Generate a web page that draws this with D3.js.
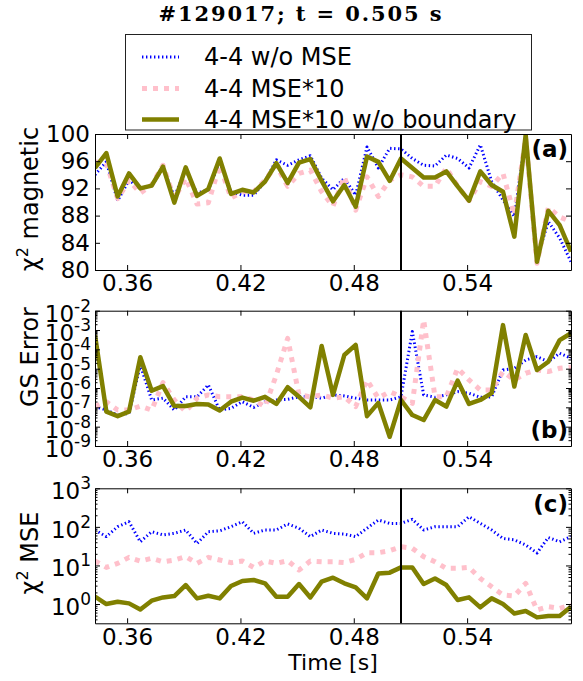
<!DOCTYPE html>
<html>
<head>
<meta charset="utf-8">
<script src="https://cdn.jsdelivr.net/npm/d3@7"></script>
<style>
  body { margin: 0; background: #fff; }
  svg { display: block; font-family: "DejaVu Sans", sans-serif; }
</style>
</head>
<body>
<svg id="chart" width="583" height="681"></svg>
<script>
// time samples [s]
const times = [0.343, 0.349, 0.355, 0.361, 0.367, 0.373, 0.379, 0.385, 0.391, 0.397,
  0.403, 0.409, 0.415, 0.421, 0.427, 0.433, 0.439, 0.445, 0.451, 0.457,
  0.463, 0.469, 0.475, 0.481, 0.487, 0.493, 0.499, 0.505, 0.511, 0.517,
  0.523, 0.529, 0.535, 0.541, 0.547, 0.553, 0.559, 0.565, 0.571, 0.577,
  0.583, 0.589, 0.595];

// (a) chi^2 magnetic
const chiMagNoMse = [94.0, 95.9, 90.2, 93.2, 92.0, 92.4, 95.0, 90.8, 94.7, 91.3,
  91.8, 95.9, 91.5, 91.0, 91.0, 93.0, 96.2, 95.4, 96.2, 96.8,
  93.5, 91.8, 93.5, 91.0, 98.1, 95.0, 97.9, 97.8, 96.4, 95.4,
  95.3, 96.9, 96.4, 95.0, 98.4, 93.0, 90.3, 87.9, 99.6, 81.7,
  87.1, 84.7, 81.2];
const chiMagMse10 = [95.9, 95.7, 90.5, 93.2, 91.3, 92.5, 95.4, 90.5, 93.5, 89.7,
  89.9, 95.4, 90.6, 91.5, 91.5, 93.2, 95.4, 92.3, 94.2, 94.7,
  91.5, 89.4, 93.7, 88.8, 93.7, 90.8, 93.2, 94.0, 93.7, 92.3,
  92.3, 95.0, 92.3, 90.2, 93.0, 92.3, 94.2, 88.1, 99.4, 81.0,
  89.2, 87.8, 87.1];
const chiMagNoBdry = [95.0, 97.2, 90.8, 94.2, 92.0, 92.4, 95.2, 89.9, 95.1, 90.9,
  91.9, 96.4, 91.2, 91.8, 91.4, 93.0, 95.7, 92.8, 95.8, 96.3,
  93.1, 90.1, 92.5, 89.3, 96.7, 95.9, 93.1, 96.4, 95.0, 93.6,
  93.6, 94.5, 92.3, 90.2, 94.5, 92.5, 91.5, 84.9, 99.9, 81.2,
  88.7, 86.6, 82.7];

// (b) GS error
const gsNoMse = [1.1e-7, 7.2e-8, 4.0e-8, 4.9e-8, 1.55e-5, 2.4e-7, 3.0e-7, 7.2e-8, 3.5e-7, 3.5e-7,
  1.45e-6, 7.2e-8, 8.9e-8, 1.95e-7, 1.0e-7, 1.95e-7, 2.4e-7, 2.6e-7, 3.5e-7, 3.5e-7,
  3.0e-7, 4.4e-7, 3.9e-7, 3.0e-7, 2.4e-7, 2.4e-7, 2.4e-7, 3.5e-7, 8.3e-4, 4.4e-7,
  3.3e-7, 4.4e-7, 6.5e-7, 5.4e-7, 3.3e-7, 3.5e-7, 8.5e-6, 1.05e-5, 2.8e-5, 4.2e-5,
  2.3e-5, 6.3e-5, 3.5e-5];
const gsMse10 = [1.1e-7, 1.95e-7, 7.2e-8, 7.2e-8, 1.17e-7, 7.2e-8, 1.9e-6, 2.4e-7, 6.0e-8, 3.0e-7,
  4.4e-7, 3.5e-7, 3.5e-7, 3.5e-7, 2.4e-7, 1.1e-7, 4.7e-6, 3.7e-4, 4.4e-7, 3.5e-7,
  4.4e-7, 3.0e-7, 3.5e-7, 1.1e-7, 2.6e-6, 3.0e-7, 6.5e-7, 3.5e-7, 1.6e-7, 3.3e-3,
  3.5e-7, 3.5e-7, 1.05e-5, 2.6e-6, 7.9e-7, 7.9e-7, 7.1e-6, 2.6e-6, 5.8e-6, 8.5e-6,
  7.1e-6, 1.05e-5, 1.2e-5];
const gsNoBdry = [5.5e-4, 6.0e-8, 3.5e-8, 6.0e-8, 3.9e-5, 7.2e-7, 1.26e-6, 1.17e-7, 1.17e-7, 1.5e-7,
  1.4e-7, 6.8e-8, 1.95e-7, 3.2e-7, 2.2e-7, 3.5e-7, 1.5e-7, 1.1e-6, 3.5e-7, 1.0e-7,
  1.5e-4, 4.4e-7, 5.1e-5, 1.7e-4, 3.5e-8, 1.7e-7, 3.0e-9, 2.4e-7, 4.0e-8, 2.2e-8,
  2.4e-7, 1.1e-7, 2.4e-6, 1.5e-7, 2.4e-7, 5.4e-7, 1.8e-3, 1.2e-6, 5.5e-4, 8.5e-6,
  2.3e-5, 3.0e-4, 6.8e-4];

// (c) chi^2 MSE
const mseNoMse = [83, 56, 101, 136, 41, 75, 62, 68, 83, 37,
  75, 79, 101, 136, 68, 83, 83, 119, 92, 56,
  83, 68, 65, 56, 92, 151, 123, 123, 157, 83,
  101, 101, 101, 184, 123, 83, 50, 46, 34, 21,
  53, 41, 56];
const mseMse10 = [13, 8.9, 11.3, 16.2, 13, 15.3, 12.5, 13.8, 16.9, 11.3,
  16.2, 13.8, 11.8, 13, 8.9, 13, 11.3, 13.3, 7.6, 13,
  12.5, 12.5, 11.8, 14.4, 21.4, 21.4, 24.2, 30.6, 27.7, 16.9,
  12.5, 8.4, 8.4, 8.9, 4.6, 2.8, 1.71, 1.61, 3.44, 0.70,
  0.85, 0.77, 0.94];
const mseNoBdry = [1.55, 1.0, 1.15, 1.04, 0.72, 1.22, 1.48, 1.61, 3.1, 1.4,
  1.64, 1.4, 2.92, 3.95, 4.2, 3.44, 1.55, 1.55, 3.3, 1.48,
  3.8, 4.8, 3.44, 2.7, 1.4, 6.2, 6.5, 8.9, 8.9, 3.3,
  4.6, 3.1, 1.27, 1.49, 0.82, 1.4, 1.0, 0.57, 0.66, 0.45,
  0.49, 0.49, 0.85];

const seriesNames = ["4-4 w/o MSE", "4-4 MSE*10", "4-4 MSE*10 w/o boundary"];
const xTicks = [0.36, 0.42, 0.48, 0.54];
const magTicks = [80, 84, 88, 92, 96, 100];
const gsExponents = [-9, -8, -7, -6, -5, -4, -3, -2];
const mseExponents = [0, 1, 2, 3];
const tSlice = 0.505;

(function(){
	const LEFT = 95, RIGHT = 571;
	const TICK_FONT = 23;
	const STYLES = [
		{ color: '#0000ff', width: 3, dash: '1.4,2.6' },
		{ color: '#ffc0cb', width: 5, dash: '5,6' },
		{ color: '#808000', width: 4.5, dash: null }
	];
	var svg = d3.select('#chart');

	var x = d3.scaleLinear().domain([times[0], times[times.length - 1]]).range([LEFT, RIGHT]);

	var panels = [
		{ id: 'a', top: 134, bottom: 270, label: 'χ', labelRest: ' magnetic', labelY: 199,
		  scale: d3.scaleLinear().domain([80, 100]), series: [chiMagNoMse, chiMagMse10, chiMagNoBdry],
		  ticks: magTicks, tag: '(a)', tagY: 157 },
		{ id: 'b', top: 310.7, bottom: 446, label: 'GS Error', labelY: 357, log: true,
		  scale: d3.scaleLog().domain([1e-9, 1e-2]), series: [gsNoMse, gsMse10, gsNoBdry],
		  exps: gsExponents, tag: '(b)', tagY: 438 },
		{ id: 'c', top: 488.3, bottom: 623.3, label: 'χ', labelRest: ' MSE', labelY: 553, log: true,
		  scale: d3.scaleLog().domain([Math.pow(10, -0.5), 1e3]), series: [mseNoMse, mseMse10, mseNoBdry],
		  exps: mseExponents, tag: '(c)', tagY: 512 }
	];

	function cleanAxis(sel){
		sel.attr('font-family', null).attr('font-size', null);
		sel.select('.domain').attr('stroke', '#000').attr('stroke-width', 1);
		sel.selectAll('.tick line').attr('stroke', '#000').attr('stroke-width', 1);
	}

	panels.forEach(function(p){
		var y = p.scale.range([p.bottom, p.top]);
		var g = svg.append('g').attr('class', 'panel panel-' + p.id);

		g.append('clipPath').attr('id', 'clip-' + p.id)
			.append('rect')
			.attr('x', LEFT).attr('y', p.top)
			.attr('width', RIGHT - LEFT).attr('height', p.bottom - p.top);

		// data lines
		var line = d3.line()
			.x(function(d, i){ return x(times[i]); })
			.y(function(d){ return y(d); });
		var lines = g.append('g').attr('clip-path', 'url(#clip-' + p.id + ')');
		p.series.forEach(function(s, k){
			lines.append('path')
				.datum(s)
				.attr('fill', 'none')
				.attr('stroke', STYLES[k].color)
				.attr('stroke-width', STYLES[k].width)
				.attr('stroke-dasharray', STYLES[k].dash)
				.attr('stroke-linejoin', 'round')
				.attr('d', line);
		});

		// time slice marker
		g.append('line')
			.attr('x1', x(tSlice)).attr('x2', x(tSlice))
			.attr('y1', p.top).attr('y2', p.bottom)
			.attr('stroke', '#000').attr('stroke-width', 2);

		// X axes (bottom with labels, top without)
		g.append('g')
			.attr('transform', 'translate(0,' + p.bottom + ')')
			.call(d3.axisBottom(x).tickValues(xTicks).tickSize(-5).tickSizeOuter(0).tickPadding(5)
				.tickFormat(d3.format('.2f')))
			.call(cleanAxis)
			.selectAll('text').attr('font-size', TICK_FONT).attr('fill', '#000');
		g.append('g')
			.attr('transform', 'translate(0,' + p.top + ')')
			.call(d3.axisTop(x).tickValues(xTicks).tickSize(-5).tickSizeOuter(0).tickFormat(''))
			.call(cleanAxis);

		// Y axes
		var majors = p.log ? p.exps.map(function(e){ return Math.pow(10, e); }) : p.ticks;
		var left = g.append('g')
			.attr('transform', 'translate(' + LEFT + ',0)')
			.call(d3.axisLeft(y).tickValues(majors).tickSize(-5).tickSizeOuter(0).tickPadding(5)
				.tickFormat(p.log ? '' : d3.format('d')))
			.call(cleanAxis);
		left.selectAll('text').attr('font-size', TICK_FONT).attr('fill', '#000');
		g.append('g')
			.attr('transform', 'translate(' + RIGHT + ',0)')
			.call(d3.axisRight(y).tickValues(majors).tickSize(-5).tickSizeOuter(0).tickFormat(''))
			.call(cleanAxis);

		if(p.log){
			var dom = y.domain();
			var minors = [];
			p.exps.forEach(function(e){
				for(let m = 2; m <= 9; m++){
					var v = m * Math.pow(10, e);
					if(v > dom[0] && v < dom[1]) minors.push(v);
				}
			});
			minors.push.apply(minors, [0.4, 0.5, 0.6, 0.7, 0.8, 0.9].filter(function(v){ return v > dom[0] && p.id === 'c'; }));
			[LEFT, RIGHT].forEach(function(px, j){
				var ax = j === 0 ? d3.axisLeft(y) : d3.axisRight(y);
				g.append('g')
					.attr('transform', 'translate(' + px + ',0)')
					.call(ax.tickValues(minors).tickSize(-2.5).tickSizeOuter(0).tickFormat(''))
					.call(cleanAxis)
					.select('.domain').remove();
			});
			// 10^n labels
			p.exps.forEach(function(e){
				var t = g.append('text')
					.attr('x', LEFT - 4)
					.attr('y', y(Math.pow(10, e)) + 11)
					.attr('text-anchor', 'end')
					.attr('font-size', TICK_FONT);
				t.append('tspan').text('10');
				t.append('tspan').attr('dy', -10).attr('font-size', 17).text(e < 0 ? '-' + (-e) : String(e));
			});
		}

		// panel tag
		g.append('text')
			.attr('x', RIGHT - 3).attr('y', p.tagY)
			.attr('text-anchor', 'end')
			.attr('font-size', 23).attr('font-weight', 'bold')
			.text(p.tag);

		// y label
		var yl = g.append('text')
			.attr('transform', 'translate(30,' + p.labelY + ') rotate(-90)')
			.attr('text-anchor', 'middle')
			.attr('dy', '0.35em')
			.attr('font-size', 24);
		yl.append('tspan').text(p.label);
		if(p.labelRest){
			yl.append('tspan').attr('dy', -10).attr('font-size', 16).text('2');
			yl.append('tspan').attr('dy', 10).text(p.labelRest);
		}
	});

	// x label
	svg.append('text')
		.attr('x', (LEFT + RIGHT) / 2).attr('y', 670)
		.attr('text-anchor', 'middle')
		.attr('font-size', 22)
		.text('Time [s]');

	// title
	svg.append('text')
		.attr('x', 300).attr('y', 21)
		.attr('text-anchor', 'middle')
		.attr('font-family', '"DejaVu Serif", serif')
		.attr('font-weight', 'bold')
		.attr('font-size', 21)
		.attr('textLength', 283).attr('lengthAdjust', 'spacing')
		.text('#129017; t = 0.505 s');

	// legend
	var legend = svg.append('g').attr('class', 'legend');
	legend.append('rect')
		.attr('x', 125.5).attr('y', 34.5).attr('width', 406).attr('height', 95.5)
		.attr('fill', '#fff').attr('stroke', '#222').attr('stroke-width', 1);
	var rowY = [57, 88.5, 119.5];
	seriesNames.forEach(function(name, k){
		legend.append('line')
			.attr('x1', 142).attr('x2', 179)
			.attr('y1', rowY[k]).attr('y2', rowY[k])
			.attr('stroke', STYLES[k].color)
			.attr('stroke-width', STYLES[k].width)
			.attr('stroke-dasharray', STYLES[k].dash);
		legend.append('text')
			.attr('x', 204).attr('y', rowY[k])
			.attr('dy', '0.35em')
			.attr('font-size', 24)
			.text(name);
	});
})();
</script>
</body>
</html>
